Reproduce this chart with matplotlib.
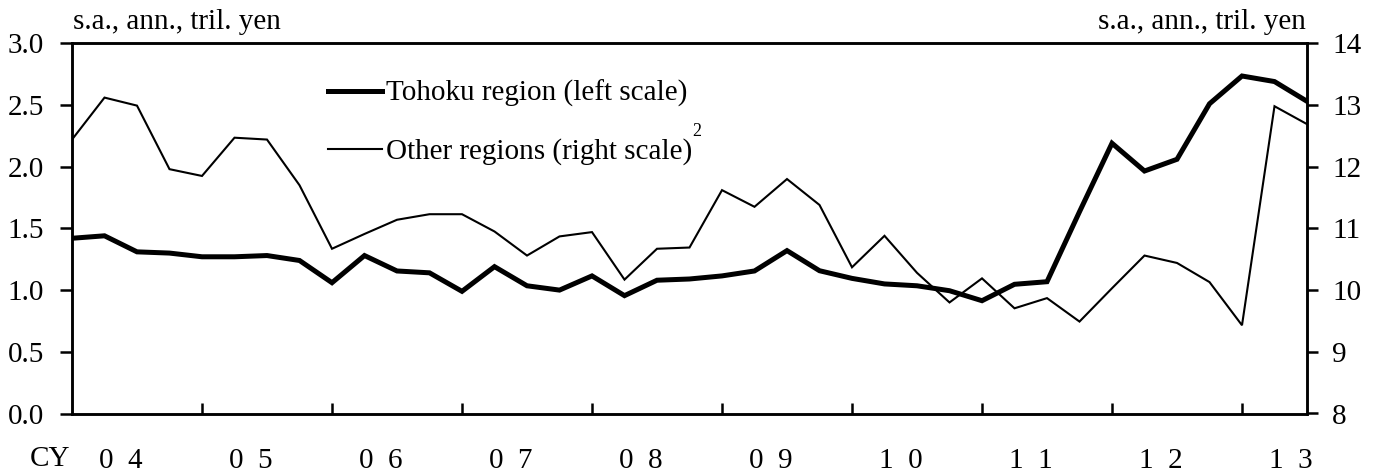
import matplotlib
matplotlib.use("Agg")
import matplotlib.pyplot as plt
import numpy as np

plt.rcParams['font.family'] = ['Liberation Serif', 'DejaVu Serif']

# Quarterly data, 2004Q1 - 2013Q3
tohoku = [1.42, 1.44, 1.31, 1.30, 1.27, 1.27, 1.28, 1.24, 1.06, 1.28,
          1.155, 1.14, 0.99, 1.19, 1.035, 1.00, 1.115, 0.955, 1.08, 1.09,
          1.115, 1.155, 1.32, 1.157, 1.095, 1.05, 1.035, 0.995, 0.914, 1.047,
          1.068, 1.635, 2.19, 1.965, 2.06, 2.51, 2.735, 2.69, 2.53]
other = [12.44, 13.12, 12.99, 11.96, 11.85, 12.47, 12.44, 11.70, 10.67, 10.91,
         11.14, 11.23, 11.23, 10.95, 10.56, 10.87, 10.94, 10.17, 10.67, 10.69,
         11.62, 11.35, 11.80, 11.38, 10.37, 10.88, 10.28, 9.80, 10.19, 9.705,
         9.87, 9.49, 10.03, 10.56, 10.44, 10.13, 9.43, 12.98, 12.69]
year_labels = ["0  4", "0  5", "0  6", "0  7", "0  8", "0  9", "1  0", "1  1", "1  2", "1  3"]
left_ticks = [0.0, 0.5, 1.0, 1.5, 2.0, 2.5, 3.0]
right_ticks = [8, 9, 10, 11, 12, 13, 14]

W, H = 1378, 474
fig = plt.figure(figsize=(W / 100, H / 100), dpi=100)
ax = fig.add_axes([72 / W, 1 - 413.5 / H, (1307 - 72) / W, (413.5 - 43.3) / H])
ax2 = ax.twinx()

x = np.arange(len(tohoku))
fs = 21
l1, = ax.plot(x, tohoku, color='black', lw=3.6, solid_joinstyle='miter', zorder=3)
l2, = ax2.plot(x, other, color='black', lw=1.5, solid_joinstyle='miter', zorder=2)
ax.set_zorder(ax2.get_zorder() + 1)
ax.patch.set_visible(False)

ax.set_xlim(0, len(tohoku) - 1)
ax.set_ylim(0, 3)
ax2.set_ylim(8, 14)

for a in (ax, ax2):
    for s in a.spines.values():
        s.set_linewidth(1.8)
        s.set_color('black')

ax.set_yticks(left_ticks)
ax.set_yticklabels([f"{v:.1f}" for v in left_ticks], fontsize=fs)
ax.tick_params(axis='y', direction='out', length=9, width=1.8, pad=11)
ax2.set_yticks(right_ticks)
ax2.set_yticklabels([str(v) for v in right_ticks], fontsize=fs)
ax2.tick_params(axis='y', direction='out', length=8, width=1.8, pad=10)

major = np.arange(4, len(tohoku) - 1, 4)
ax.set_xticks(major)
ax.set_xticklabels([''] * len(major))
ax.tick_params(axis='x', which='major', direction='in', length=8, width=1.8)
minor = 1.5 + 4 * np.arange(len(year_labels))
ax.set_xticks(minor, minor=True)
ax.set_xticklabels(year_labels, minor=True, fontsize=fs)
ax.tick_params(axis='x', which='minor', length=0, pad=25)

fig.text(30 / W, 1 - 459 / H, "CY", fontsize=fs, ha='left', va='center')
fig.text(73 / W, 1 - 22 / H, "s.a., ann., tril. yen", fontsize=fs, ha='left', va='center')
fig.text(1306 / W, 1 - 22 / H, "s.a., ann., tril. yen", fontsize=fs, ha='right', va='center')

leg = ax.legend([l1, l2], ["Tohoku region (left scale)", "Other regions (right scale)"],
                loc='upper left', bbox_to_anchor=(328 / W, 1 - 80 / H),
                bbox_transform=fig.transFigure, frameon=False, fontsize=fs,
                handlelength=1.85, handletextpad=0.15, labelspacing=1.07,
                borderpad=0, borderaxespad=0)
fig.text(697 / W, 1 - 131 / H, "2", fontsize=13, ha='center', va='center')

fig.savefig("out.png", dpi=100)
